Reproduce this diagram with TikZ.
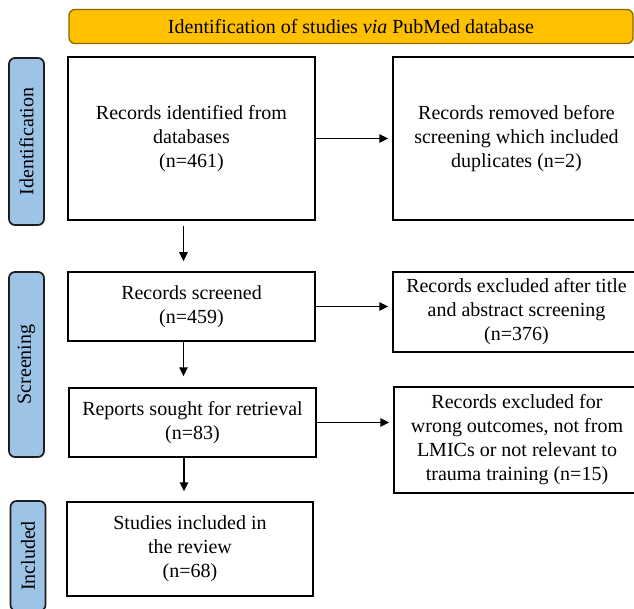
\documentclass[tikz,border=0pt]{standalone}
\usepackage{fontspec}
\setmainfont{Liberation Serif}
\newfontfamily\tnr{Liberation Serif}
\usetikzlibrary{arrows.meta}
\definecolor{hdrfill}{HTML}{FFC000}
\definecolor{hdrline}{HTML}{8A6A00}
\definecolor{phasefill}{HTML}{9DC3E6}
\definecolor{phaseline}{HTML}{1E1E1E}
\begin{document}
\begin{tikzpicture}[x=1pt,y=-1pt,
  txt/.style={font=\tnr\fontsize{20}{24}\selectfont},
  box/.style={txt, draw=black, line width=1.5pt, fill=white, align=center, inner sep=0pt},
  phase/.style={txt, draw=phaseline, fill=phasefill, line width=1.7pt, rounded corners=6pt, inner sep=0pt, rotate=90, minimum height=35pt},
  hdr/.style={txt, draw=hdrline, fill=hdrfill, line width=1.3pt, rounded corners=6pt, inner sep=0pt},
  arr/.style={line width=1.5pt, -{Triangle[length=9pt,width=8.5pt]}}]
\useasboundingbox (0,0) rectangle (634,609);
\clip (0,0) rectangle (634,609);

\node[hdr, minimum width=564pt, minimum height=34pt] (hdr) at (351,26.5) {Identification of studies \textit{via} PubMed database};

\node[phase, minimum width=167pt] (pid) at (26.5,141.5) {Identification};
\node[phase, minimum width=185pt] (psc) at (26.5,364.5) {Screening};
\node[phase, minimum width=110pt] (pin) at (28,556) {Included};

\node[box, minimum width=247pt, minimum height=163pt] (b1) at (191.5,138.5) {Records identified from\\databases\\(n=461)};
\node[box, minimum width=247pt, minimum height=163pt] (b2) at (516.5,138.5) {Records removed before\\screening which included\\duplicates (n=2)};
\node[box, minimum width=247pt, minimum height=69pt] (b3) at (191.5,306.5) {Records screened\\(n=459)};
\node[box, minimum width=247pt, minimum height=80pt] (b4) at (516.5,312) {Records excluded after title\\and abstract screening\\(n=376)};
\node[box, minimum width=247pt, minimum height=69pt] (b5) at (192.5,422.5) {Reports sought for retrieval\\(n=83)};
\node[box, minimum width=246pt, minimum height=106pt] (b6) at (517,440) {Records excluded for\\wrong outcomes, not from\\LMICs or not relevant to\\trauma training (n=15)};
\node[box, minimum width=246pt, minimum height=94pt] (b7) at (190,549) {Studies included in\\the review\\(n=68)};

\draw[arr, shorten >=4pt] (b1.east) -- (b1.east -| b2.west);
\draw[arr, shorten >=4pt] (b3.east) -- (b3.east -| b4.west);
\draw[arr, shorten >=4pt] (b5.east) -- (b5.east -| b6.west);

\draw[arr, shorten <=5pt, shorten >=10pt] ([xshift=-8pt]b1.south) coordinate (d1) -- (d1 |- b3.north);
\draw[arr, shorten >=11pt] ([xshift=-8pt]b3.south) coordinate (d2) -- (d2 |- b5.north);
\draw[arr, shorten >=10pt] ([xshift=-8.5pt]b5.south) coordinate (d3) -- (d3 |- b7.north);
\end{tikzpicture}
\end{document}
